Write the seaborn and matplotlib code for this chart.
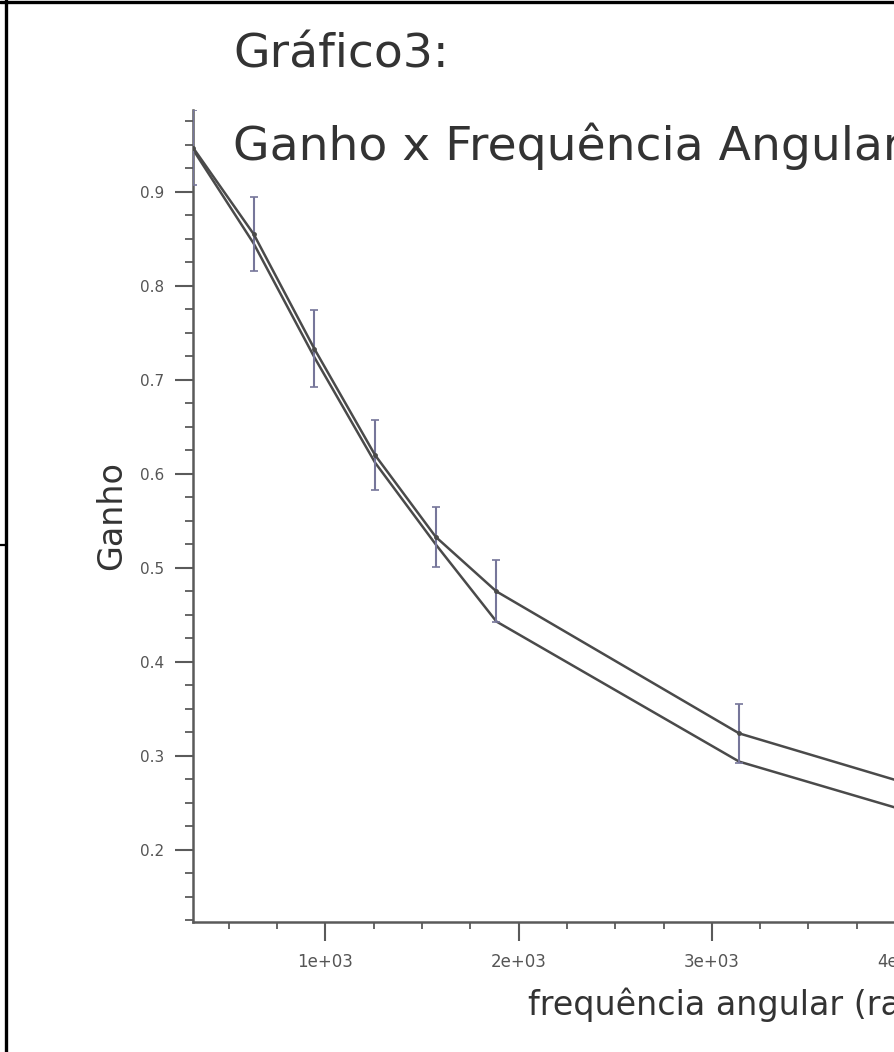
import matplotlib
matplotlib.use("Agg")
import matplotlib.pyplot as plt
import numpy as np
import pandas as pd
import seaborn as sns
from matplotlib.lines import Line2D
from matplotlib.ticker import FixedLocator, FixedFormatter, MultipleLocator

# Angular frequency (rad/s) of each measurement
omega = [314.16, 628.32, 942.48, 1256.64, 1570.80, 1884.96, 3141.59, 4398.23]
# Measured gain with its uncertainty
ganho_medido = [0.947, 0.855, 0.733, 0.620, 0.533, 0.475, 0.324, 0.247]
erro_medido = [0.040, 0.039, 0.041, 0.037, 0.032, 0.033, 0.031, 0.030]
# Expected gain
ganho_teorico = [0.945, 0.845, 0.724, 0.612, 0.525, 0.443, 0.294, 0.218]

x_ticks = [1000, 2000, 3000, 4000, 5000, 6000]
x_tick_labels = ["1e+03", "2e+03", "3e+03", "4e+03", "5e+03", "6e+03"]
y_ticks = [0.2, 0.3, 0.4, 0.5, 0.6, 0.7, 0.8, 0.9]
y_tick_labels = ["0.2", "0.3", "0.4", "0.5", "0.6", "0.7", "0.8", "0.9"]

sns.set_style("ticks")
plt.rcParams["font.family"] = ["DejaVu Sans"]

W, H = 895, 1052
fig = plt.figure(figsize=(W / 100, H / 100), dpi=100)
fig.patch.set_facecolor("white")

# Axes area (extends past the right edge of the canvas)
ax_left, ax_right, ax_top, ax_bottom = 193, 1299, 110, 922
ax = fig.add_axes([ax_left / W, (H - ax_bottom) / H,
                   (ax_right - ax_left) / W, (ax_bottom - ax_top) / H])
ax.set_facecolor("white")

df_med = pd.DataFrame({"omega": omega, "ganho": ganho_medido})
df_teo = pd.DataFrame({"omega": omega, "ganho": ganho_teorico})

line_color = "#4a4a4a"
err_color = "#76769a"

ax.errorbar(omega, ganho_medido, yerr=erro_medido, fmt="none",
            ecolor=err_color, elinewidth=1.5, capsize=3, capthick=1.2, zorder=3)
sns.lineplot(data=df_teo, x="omega", y="ganho", ax=ax, color=line_color,
             linewidth=1.8, zorder=2)
sns.lineplot(data=df_med, x="omega", y="ganho", ax=ax, color=line_color,
             linewidth=1.8, marker="o", markersize=3.5, markeredgewidth=0,
             zorder=4)

ax.set_xlim(314.16, 6040)
ax.set_ylim(0.1234, 0.987)

ax.xaxis.set_major_locator(FixedLocator(x_ticks))
ax.xaxis.set_major_formatter(FixedFormatter(x_tick_labels))
ax.xaxis.set_minor_locator(MultipleLocator(250))
ax.yaxis.set_major_locator(FixedLocator(y_ticks))
ax.yaxis.set_major_formatter(FixedFormatter(y_tick_labels))
ax.yaxis.set_minor_locator(MultipleLocator(0.025))

for side in ["top", "right"]:
    ax.spines[side].set_visible(False)
for side in ["left", "bottom"]:
    ax.spines[side].set_color("#5a5a5a")
    ax.spines[side].set_linewidth(1.8)

ax.tick_params(axis="y", which="major", length=13, width=1.5, color="#5a5a5a",
               labelsize=11, labelcolor="#555555", pad=8)
ax.tick_params(axis="y", which="minor", length=5.5, width=1.3, color="#5a5a5a")
ax.tick_params(axis="x", which="major", length=14, width=1.5, color="#5a5a5a",
               labelsize=12, labelcolor="#555555", pad=8)
ax.tick_params(axis="x", which="minor", length=5, width=1.3, color="#5a5a5a")

ax.set_xlabel("frequência angular (rad/s)", fontsize=24, color="#333333",
              labelpad=12)
ax.set_ylabel("Ganho", fontsize=24, color="#333333", labelpad=8)

# Two-line heading
fig.text(233 / W, 1 - 67 / H, "Gráfico3:", fontsize=34, color="#333333",
         ha="left", va="baseline")
fig.text(233 / W, 1 - 160 / H, "Ganho x Frequência Angular", fontsize=34,
         color="#333333", ha="left", va="baseline")

# Frame lines around the figure
fig.add_artist(Line2D([0, 1], [1 - 1.5 / H, 1 - 1.5 / H],
                      transform=fig.transFigure, color="black", linewidth=2.4))
fig.add_artist(Line2D([6.5 / W, 6.5 / W], [0, 1],
                      transform=fig.transFigure, color="black", linewidth=2.4))
fig.add_artist(Line2D([0, 6.5 / W], [1 - 545 / H, 1 - 545 / H],
                      transform=fig.transFigure, color="black", linewidth=1.6))

fig.savefig("out.png", dpi=100, facecolor="white")
